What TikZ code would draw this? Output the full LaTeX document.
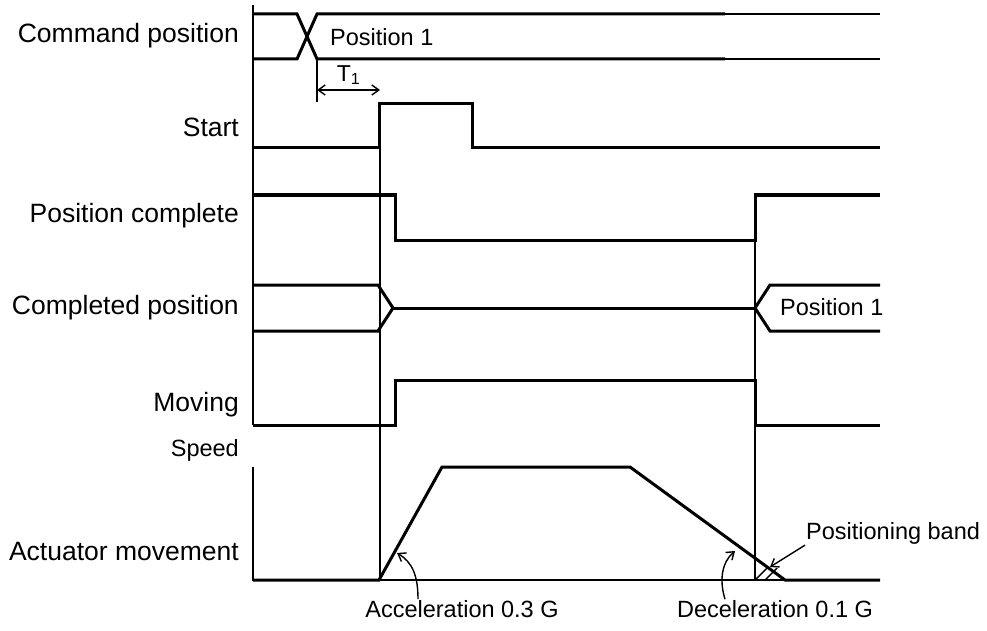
\documentclass[tikz,border=0pt]{standalone}
\usepackage{fontspec}
\setmainfont{Liberation Sans}
\usepackage{tikz}
\usetikzlibrary{positioning, arrows.meta}

\begin{document}
\begin{tikzpicture}[x=1pt, y=-1pt,
    sig/.style={line width=3pt},
    guide/.style={line width=1.4pt},
    siglabel/.style={anchor=east, inner sep=0pt, font=\fontsize{26.5}{30}\selectfont},
    note/.style={inner sep=1pt, font=\fontsize{23.5}{28}\selectfont},
    callout/.style={guide, -{Straight Barb[length=7pt, width=10pt]}},
    dimline/.style={guide, {Straight Barb[length=7pt, width=10pt]}-{Straight Barb[length=7pt, width=10pt]}}]
  \useasboundingbox (0,0) rectangle (987,631);

  % signal names
  \node[siglabel] (cmd)   at (239,36)  {Command position};
  \node[siglabel] (start) at (239,127) {Start};
  \node[siglabel] (pcomp) at (239,216) {Position complete};
  \node[siglabel] (cpos)  at (239,308) {Completed position};
  \node[siglabel] (mov)   at (239,405) {Moving};
  \node[siglabel, font=\fontsize{23.5}{28}\selectfont] (speed) at (239,450) {Speed};
  \node[siglabel] (act)   at (239,552) {Actuator movement};

  % axes
  \draw[guide] (253,5) -- (253,425);
  \draw[guide] (253,467) -- (253,580) -- (880,580);

  % command position
  \draw[sig] (253,14) -- (297,14) -- (317,59) -- (725,59);
  \draw[sig] (253,59) -- (297,59) -- (317,14) -- (725,14);
  \draw[line width=2pt] (725,14) -- (880,14) (725,59) -- (880,59);
  \node[note, anchor=west] (pos1) at (329,37) {Position 1};

  % start
  \draw[sig] (253,148) -- (379,148) -- (379,104) -- (472,104) -- (472,148) -- (880,148);

  % position complete
  \draw[sig] (253,195) -- (395,195) -- (395,240) -- (755,240) -- (755,195) -- (880,195);

  % completed position
  \draw[sig] (253,285) -- (378,285) -- (393,308) -- (378,331) -- (253,331);
  \draw[sig] (393,308) -- (755,308);
  \draw[sig] (880,285) -- (770,285) -- (755,308) -- (770,331) -- (880,331);
  \node[note, anchor=west] (pos1b) at (779,307) {Position 1};

  % moving
  \draw[sig] (253,425) -- (395,425) -- (395,380) -- (755,380) -- (755,425) -- (880,425);

  % speed
  \draw[sig] (253,580) -- (379,580) -- (442,467) -- (630,467) -- (785,580) -- (880,580);

  % timing guides
  \draw[guide] (380,104) -- (380,580);
  \draw[guide] (755,195) -- (755,580);
  \draw[guide] (317,59) -- (317,102);
  \coordinate (t1a) at (317,90);
  \coordinate (t1b) at (380,90);
  \draw[dimline] (t1a) -- node[above=1pt, font=\fontsize{23}{26}\selectfont] (t1) {T\textsubscript{1}} (t1b);

  % positioning band
  \draw[guide] (755,580) -- (768,567) (765,580) -- (777,568);
  \node[note, anchor=west] (band) at (805,533) {Positioning band};
  \coordinate (bandtip) at (770,567);
  \draw[callout] (band.south west) -- (bandtip);

  % acceleration / deceleration
  \node[note] (acc) at (462,609) {Acceleration 0.3 G};
  \coordinate (acctip) at (397,553);
  \draw[callout] ([xshift=-44pt]acc.north) .. controls (418,575) and (412,562) .. (acctip);
  \node[note] (dec) at (775,609) {Deceleration 0.1 G};
  \coordinate (dectip) at (735,551);
  \draw[callout] ([xshift=-50pt]dec.north) .. controls (719,580) and (722,562) .. (dectip);
\end{tikzpicture}
\end{document}
